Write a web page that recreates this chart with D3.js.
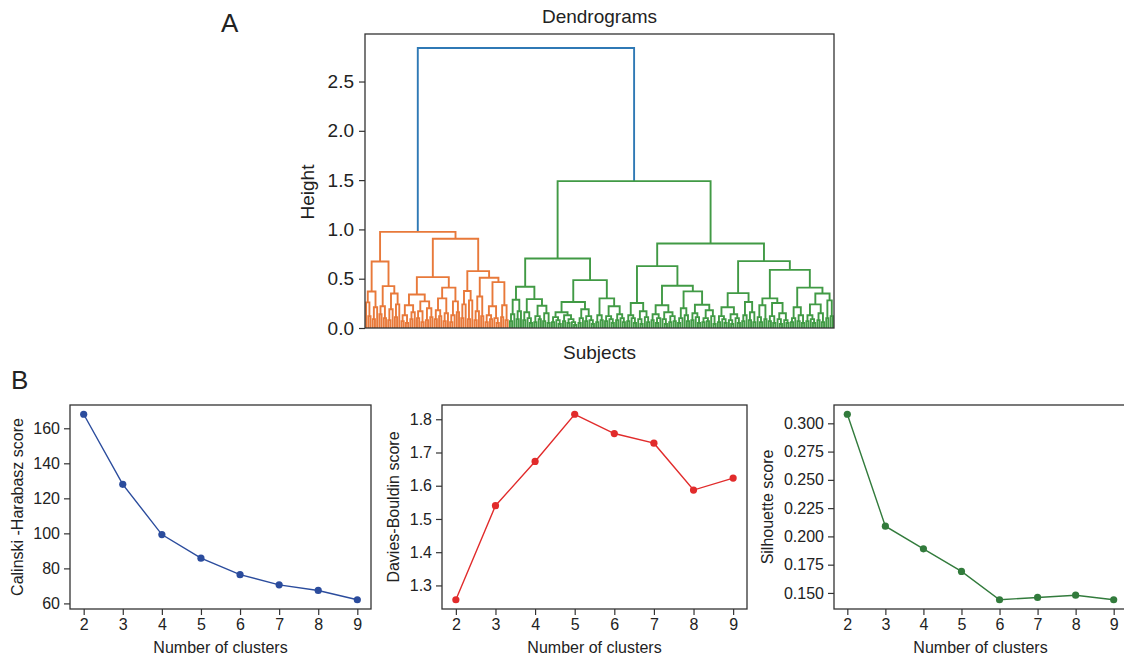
<!DOCTYPE html>
<html>
<head>
<meta charset="utf-8">
<script src="https://cdn.jsdelivr.net/npm/d3@7"></script>
<style>
  body { margin: 0; background: #fff; }
  svg text { font-family: "Liberation Sans", Arial, sans-serif; fill: #222; }
  .domain { display: none; }
  .tick line { stroke: #333; stroke-width: 1.2; }
</style>
</head>
<body>
<div id="chart"></div>
<script>
// ---- Panel B data ----
var clusters = [2, 3, 4, 5, 6, 7, 8, 9];
var calinski = [168.0, 128.0, 99.3, 85.8, 76.4, 70.6, 67.4, 62.1];
var davies = [1.257, 1.540, 1.673, 1.815, 1.757, 1.728, 1.587, 1.623];
var silhouette = [0.308, 0.209, 0.189, 0.169, 0.144, 0.146, 0.148, 0.144];

var clusterTicks = [2, 3, 4, 5, 6, 7, 8, 9];
var calinskiTicks = [60, 80, 100, 120, 140, 160];
var daviesTicks = [1.3, 1.4, 1.5, 1.6, 1.7, 1.8];
var silhouetteTicks = [0.150, 0.175, 0.200, 0.225, 0.250, 0.275, 0.300];
var heightTicks = [0, 0.5, 1.0, 1.5, 2.0, 2.5];

// ---- Panel A data: merge tree, [height, left, right], 0 = one subject ----
// orange cluster
var OLa = [0.37, [0.26, 0, [0.12, 0, 0]], [0.21, [0.09, 0, 0], 0]];
var OLb = [0.425, [0.22, [0.14, 0, 0], [0.1, 0, 0]], [0.35, [0.19, [0.08, 0, 0], 0], [0.24, [0.11, 0, 0], 0]]];
var ORLa = [0.34, [0.23, [0.13, [0.07, 0, 0], [0.05, 0, 0]], [0.16, [0.09, 0, 0], 0]], [0.27, [0.17, [0.1, 0, 0], [0.06, 0, 0]], [0.2, [0.08, 0, 0], [0.11, 0, 0]]]];
var ORLb = [0.41, [0.3, [0.18, [0.09, 0, 0], [0.12, 0, 0]], [0.15, [0.07, 0, 0], 0]], [0.27, [0.13, [0.06, 0, 0], 0], [0.16, 0, 0]]];
var ORRa = [0.375, [0.24, [0.1, 0, 0], 0], [0.28, [0.09, 0, 0], 0]];
var ORRb1 = [0.32, [0.17, [0.08, 0, 0], 0], [0.12, 0, 0]];
var ORRb2 = [0.465, [0.22, [0.13, [0.06, 0, 0], [0.09, 0, 0]], [0.1, 0, [0.05, 0, 0]]], [0.23, [0.11, 0, 0], [0.08, 0, 0]]];
var orangeTree = [0.975,
  [0.675, OLa, OLb],
  [0.905, [0.516, ORLa, ORLb], [0.577, ORRa, [0.51, ORRb1, ORRb2]]]];

// green cluster
var GL1a = [0.287, [0.14, [0.07, 0, 0], 0], [0.17, [0.09, 0, 0], 0]];
var GL1b1 = [0.16, [0.08, 0, 0], [0.1, 0, [0.05, 0, 0]]];
var GL1b2 = [0.226, [0.12, [0.06, 0, 0], [0.09, 0, 0]], [0.15, [0.07, 0, 0], [0.05, 0, 0]]];
var GL2a = [0.263, [0.16, [0.11, [0.06, 0, 0], [0.08, 0, [0.04, 0, 0]]], [0.13, [0.07, 0, 0], [0.09, [0.05, 0, 0], [0.06, 0, [0.03, 0, 0]]]]], [0.19, [0.1, [0.05, 0, 0], 0], [0.12, [0.07, 0, 0], [0.08, 0, [0.04, 0, 0]]]]];
var GL2b = [0.30, [0.13, [0.06, 0, 0], [0.08, 0, 0]], [0.22, [0.12, [0.07, 0, 0], [0.09, 0, [0.05, 0, 0]]], [0.14, [0.08, 0, 0], [0.1, 0, [0.06, 0, 0]]]]];
var GR1a = [0.253, [0.13, [0.07, 0, 0], [0.1, 0, [0.05, 0, 0]]], [0.17, [0.09, 0, [0.04, 0, 0]], [0.11, 0, [0.06, 0, 0]]]];
var GR1b1 = [0.23, [0.14, [0.08, 0, 0], [0.1, [0.05, 0, 0], 0]], [0.16, [0.09, 0, [0.04, 0, 0]], [0.12, [0.06, 0, 0], [0.07, 0, 0]]]];
var GR1b2 = [0.371, [0.2, [0.1, [0.05, 0, 0], 0], [0.13, 0, [0.07, 0, 0]]], [0.236, [0.15, [0.08, 0, 0], [0.11, 0, [0.05, 0, 0]]], [0.18, [0.1, [0.06, 0, 0], [0.07, 0, 0]], [0.12, 0, [0.04, 0, 0]]]]];
var GR2a = [0.354, [0.21, [0.12, [0.06, 0, 0], [0.09, 0, [0.05, 0, 0]]], [0.14, [0.08, 0, [0.04, 0, 0]], [0.1, 0, [0.05, 0, 0]]]], [0.263, [0.13, [0.07, 0, 0], 0], [0.16, [0.08, 0, 0], [0.06, 0, 0]]]];
var GR2b1 = [0.30, [0.23, [0.11, 0, [0.06, 0, 0]], [0.09, 0, 0]], [0.253, [0.12, [0.07, 0, 0], [0.05, 0, 0]], [0.15, [0.09, 0, [0.04, 0, 0]], [0.08, 0, [0.05, 0, 0]]]]];
var GR2b2 = [0.41, [0.21, [0.1, [0.06, 0, 0], 0], [0.13, [0.07, 0, 0], [0.05, 0, 0]]], [0.35, [0.24, [0.13, [0.07, 0, 0], [0.09, 0, [0.05, 0, 0]]], [0.15, [0.08, 0, 0], [0.06, 0, 0]]], [0.28, [0.1, 0, 0], [0.12, 0, 0]]]];
var greenTree = [1.49,
  [0.705, [0.418, GL1a, [0.293, GL1b1, GL1b2]], [0.486, GL2a, GL2b]],
  [0.857, [0.628, GR1a, [0.428, GR1b1, GR1b2]], [0.678, GR2a, [0.59, GR2b1, GR2b2]]]];

var mergeTree = [2.84, orangeTree, greenTree];
var branchColors = ["#e8793a", "#419a45"];
var rootColor = "#2f79b5";

var svg = d3.select("#chart").append("svg")
  .attr("width", 1124)
  .attr("height", 658);

// ================= Panel A : dendrogram =================
var dend = { left: 365, right: 834, top: 34, bottom: 328 };

var root = d3.hierarchy(mergeTree, d => Array.isArray(d) ? [d[1], d[2]] : null);
var nLeaves = root.leaves().length;
d3.cluster().separation(() => 1).size([nLeaves, 1])(root);

var xLeaf = d3.scaleLinear().domain([0, nLeaves]).range([dend.left, dend.right]);
var yHeight = d3.scaleLinear().domain([0, 2.84 * 1.05]).range([dend.bottom, dend.top]);
var h = d => Array.isArray(d.data) ? d.data[0] : 0;

// color by top branch
root.children.forEach(function(c, i) {
  c.each(function(n) { n.color = branchColors[i]; });
});
root.color = rootColor;

var links = root.descendants().filter(d => d.children);
svg.append("g")
  .selectAll("path")
  .data(links)
  .enter()
  .append("path")
  .attr("d", function(d) {
    var a = d.children[0], b = d.children[1];
    return "M" + xLeaf(a.x) + "," + yHeight(h(a)) +
      "V" + yHeight(h(d)) + "H" + xLeaf(b.x) + "V" + yHeight(h(b));
  })
  .attr("fill", "none")
  .attr("stroke", d => d.color)
  .attr("stroke-width", 1.9);

svg.append("rect")
  .attr("x", dend.left).attr("y", dend.top)
  .attr("width", dend.right - dend.left).attr("height", dend.bottom - dend.top)
  .attr("fill", "none").attr("stroke", "#333").attr("stroke-width", 1.3);

svg.append("g")
  .attr("transform", `translate(${dend.left},0)`)
  .call(d3.axisLeft(yHeight).tickValues(heightTicks).tickFormat(d3.format(".1f")).tickSize(6).tickPadding(5))
  .selectAll("text").style("font-size", "19px").style("fill", "#222");

svg.append("text")
  .attr("transform", "translate(307,192) rotate(-90)")
  .attr("text-anchor", "middle").attr("dy", "0.35em")
  .style("font-size", "19px")
  .text("Height");

svg.append("text")
  .attr("x", (dend.left + dend.right) / 2).attr("y", 23)
  .attr("text-anchor", "middle")
  .style("font-size", "19px")
  .text("Dendrograms");

svg.append("text")
  .attr("x", (dend.left + dend.right) / 2).attr("y", 359)
  .attr("text-anchor", "middle")
  .style("font-size", "19px")
  .text("Subjects");

svg.append("text").attr("x", 221).attr("y", 32).style("font-size", "26px").text("A");
svg.append("text").attr("x", 11).attr("y", 389).style("font-size", "26px").text("B");

// ================= Panel B : scores =================
function scorePanel(x0, x1, values, ticks, fmt, color, label, labelX) {
  var top = 405, bottom = 609;
  var x = d3.scaleLinear().domain([1.65, 9.35]).range([x0, x1]);
  var lo = d3.min(values), hi = d3.max(values), pad = (hi - lo) * 0.05;
  var y = d3.scaleLinear().domain([lo - pad, hi + pad]).range([bottom, top]);

  var g = svg.append("g");
  g.append("rect")
    .attr("x", x0).attr("y", top)
    .attr("width", x1 - x0).attr("height", bottom - top)
    .attr("fill", "none").attr("stroke", "#333").attr("stroke-width", 1.3);

  g.append("g")
    .attr("transform", `translate(0,${bottom})`)
    .call(d3.axisBottom(x).tickValues(clusterTicks).tickFormat(d3.format("d")).tickSize(6).tickPadding(4))
    .selectAll("text").style("font-size", "16px").style("fill", "#222");

  g.append("g")
    .attr("transform", `translate(${x0},0)`)
    .call(d3.axisLeft(y).tickValues(ticks).tickFormat(d3.format(fmt)).tickSize(6).tickPadding(4))
    .selectAll("text").style("font-size", "16px").style("fill", "#222");

  var line = d3.line()
    .x((d, i) => x(clusters[i]))
    .y(d => y(d));
  g.append("path")
    .datum(values)
    .attr("d", line)
    .attr("fill", "none")
    .attr("stroke", color)
    .attr("stroke-width", 1.4);

  g.selectAll("circle")
    .data(values)
    .enter()
    .append("circle")
    .attr("cx", (d, i) => x(clusters[i]))
    .attr("cy", d => y(d))
    .attr("r", 3.6)
    .style("fill", color);

  g.append("text")
    .attr("x", (x0 + x1) / 2).attr("y", 653)
    .attr("text-anchor", "middle")
    .style("font-size", "16px")
    .text("Number of clusters");

  g.append("text")
    .attr("transform", `translate(${labelX},${(top + bottom) / 2}) rotate(-90)`)
    .attr("text-anchor", "middle").attr("dy", "0.35em")
    .style("font-size", "16px")
    .text(label);
}

scorePanel(70, 371, calinski, calinskiTicks, "d", "#2b4c9d", "Calinski -Harabasz score", 17);
scorePanel(442, 747, davies, daviesTicks, ".1f", "#e12b2b", "Davies-Bouldin score", 393);
scorePanel(834, 1127, silhouette, silhouetteTicks, ".3f", "#327b3c", "Silhouette score", 767);
</script>
</body>
</html>
